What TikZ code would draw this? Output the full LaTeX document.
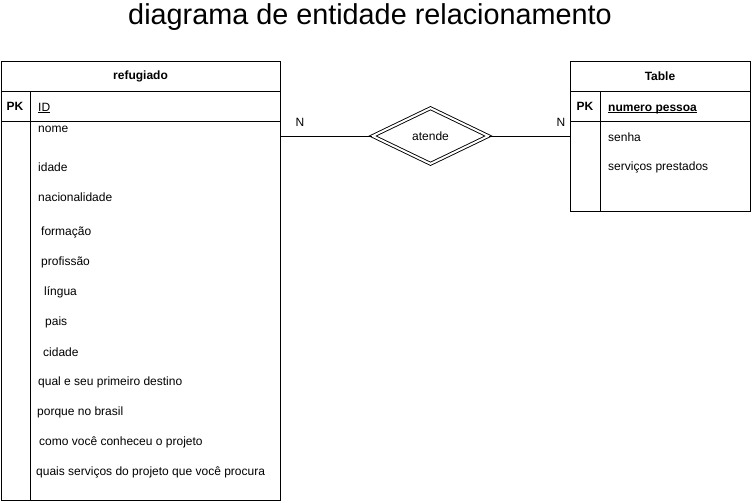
\documentclass[tikz,border=0pt]{standalone}
\usepackage{fontspec}
\setmainfont{Liberation Sans}
\usetikzlibrary{shapes.geometric}
\newcommand{\fieldul}[1]{\underline{\smash{#1}}}
\begin{document}
\begin{tikzpicture}[x=1pt,y=-1pt,
  tbl/.style={draw,line width=1pt,inner sep=0pt,rectangle},
  fld/.style={anchor=west,inner sep=0pt,font=\fontsize{12}{14}\selectfont},
  hdr/.style={inner sep=0pt,font=\fontsize{12}{14}\selectfont\bfseries},
  rel/.style={draw,diamond,double,double distance=2pt,line width=0.9pt,inner sep=0pt,minimum width=116pt,minimum height=56pt,font=\fontsize{12}{14}\selectfont},
  conn/.style={line width=1pt},
  lbl/.style={inner sep=0pt,font=\fontsize{12}{14}\selectfont}]
\useasboundingbox (0,0) rectangle (752,503);
\node[inner sep=0pt,font=\fontsize{28.8}{32}\selectfont] (title) at (370,17) {diagrama de entidade relacionamento};
% left table
\node[tbl,minimum width=279pt,minimum height=438pt] (lt) at (140.5,281) {};
\coordinate (lh) at (1,91);
\coordinate (lp) at (1,121);
\coordinate (ld) at (30,91);
\draw[conn] (lh) -- (lh -| lt.east);
\draw[conn] (lp) -- (lp -| lt.east);
\draw[conn] (ld) -- (ld |- lt.south);
\node[hdr] (lttitle) at (140.5,76.5) {refugiado};
\node[hdr] (lpk) at (15,106.5) {PK};
\node[fld,anchor=base west] (lid) at (38,111) {\fieldul{ID}};
\node[fld] (f1) at (38,129) {nome};
\node[fld] (f2) at (38,167) {idade};
\node[fld] (f3) at (38,197) {nacionalidade};
\node[fld] (f4) at (41,232) {formação};
\node[fld] (f5) at (41,262) {profissão};
\node[fld] (f6) at (44,292) {língua};
\node[fld] (f7) at (45,322) {pais};
\node[fld] (f8) at (43,352) {cidade};
\node[fld] (f9) at (38,382) {qual e seu primeiro destino};
\node[fld] (f10) at (37,412) {porque no brasil};
\node[fld] (f11) at (39,442) {como você conheceu o projeto};
\node[fld] (f12) at (36,472) {quais serviços do projeto que você procura};
% right table
\node[tbl,minimum width=180pt,minimum height=149pt] (rt) at (660,136.5) {};
\coordinate (rh) at (570,91);
\coordinate (rp) at (570,121);
\coordinate (rd) at (600.5,91);
\draw[conn] (rh) -- (rh -| rt.east);
\draw[conn] (rp) -- (rp -| rt.east);
\draw[conn] (rd) -- (rd |- rt.south);
\node[hdr] (rttitle) at (660,76.5) {Table};
\node[hdr] (rpk) at (585,106.5) {PK};
\node[fld,anchor=base west,font=\fontsize{12}{14}\selectfont\bfseries] (rid) at (608,111) {\fieldul{numero pessoa}};
\node[fld] (r1) at (608,137) {senha};
\node[fld] (r2) at (608,167) {serviços prestados};
% relationship
\node[rel] (d) at (430.5,136) {atende};
\draw[conn] (d.west) -- (d.west -| lt.east);
\draw[conn] (d.east) -- (d.east -| rt.west);
\node[lbl] (n1) at (300,122) {N};
\node[lbl] (n2) at (561,122) {N};
\end{tikzpicture}
\end{document}
